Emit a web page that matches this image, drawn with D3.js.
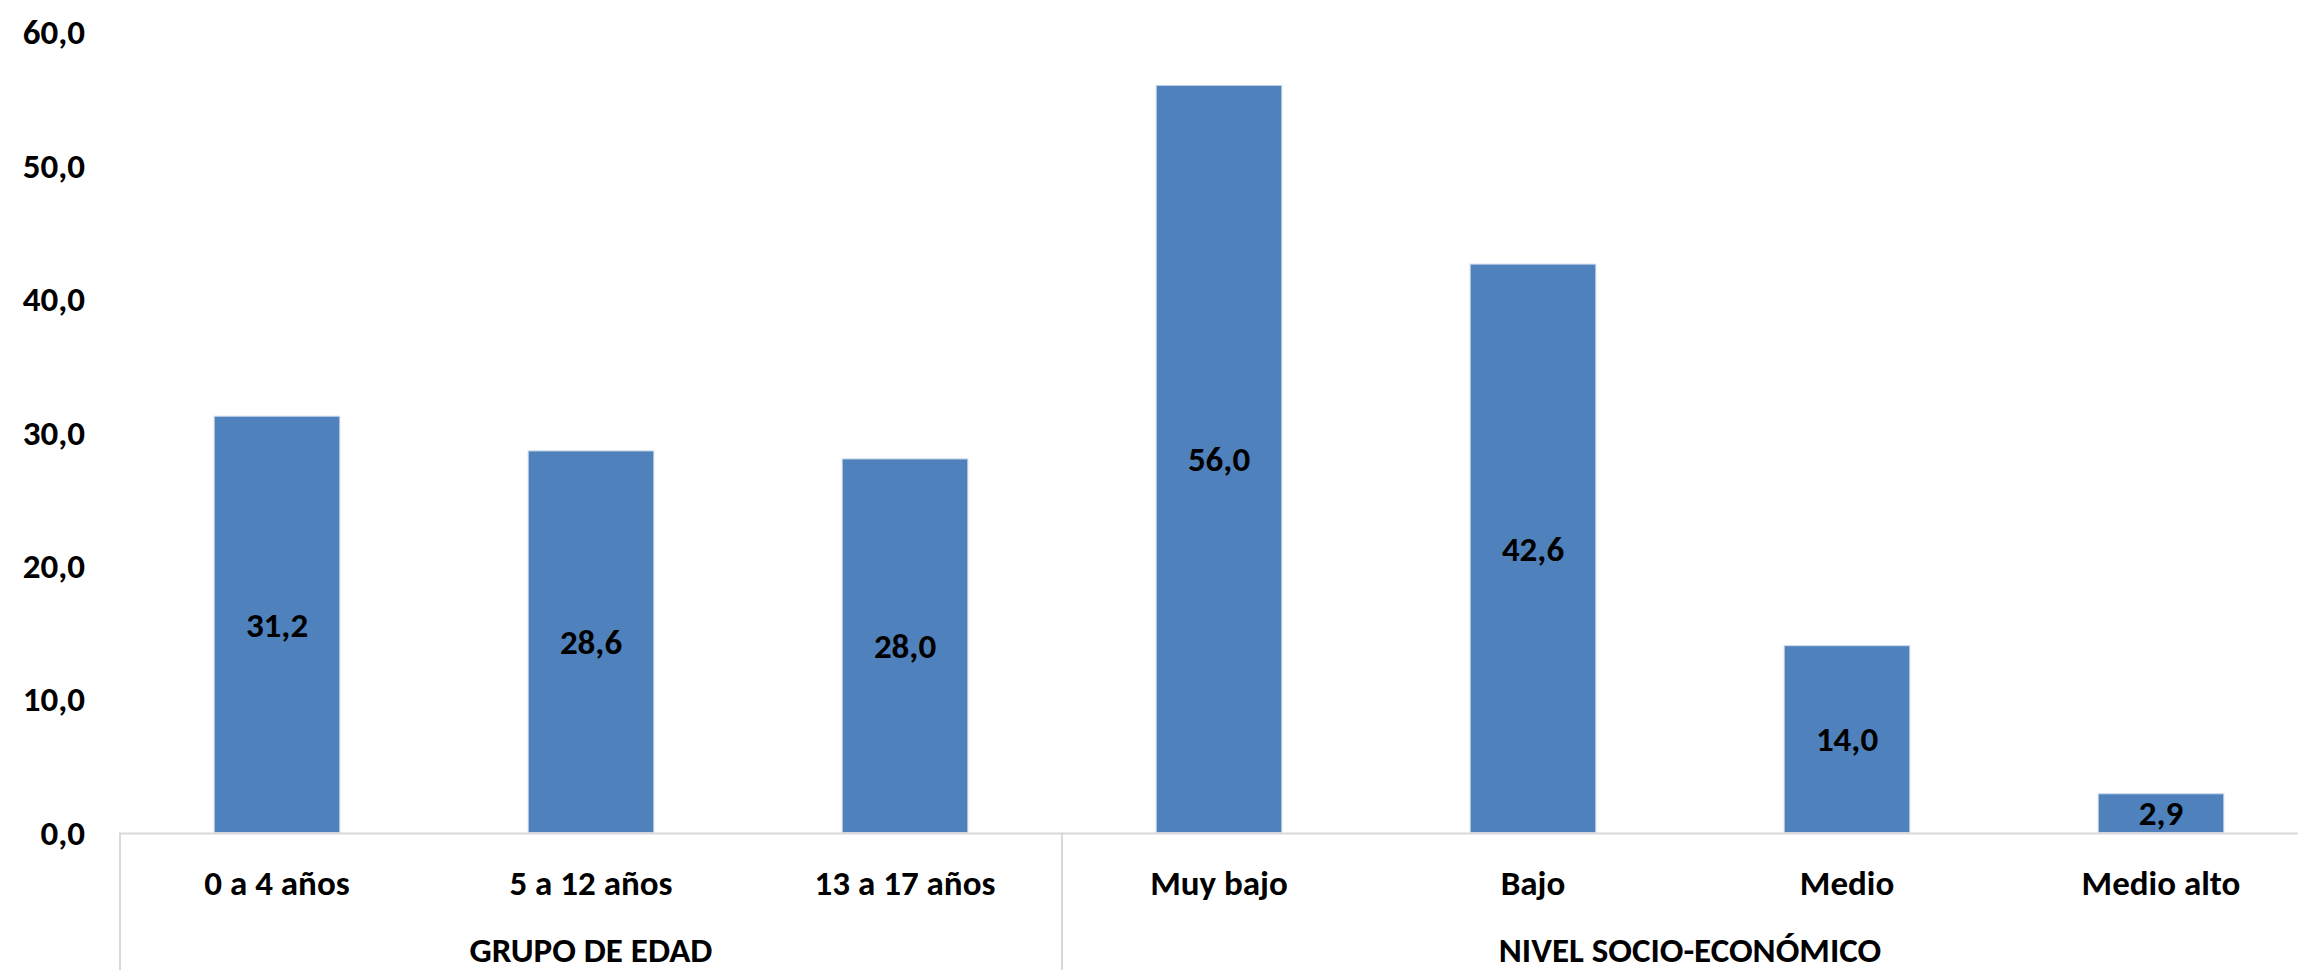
<!DOCTYPE html>
<html><head><meta charset="utf-8">
<script src="https://cdn.jsdelivr.net/npm/d3@7"></script>
<style>
html,body{margin:0;padding:0;background:#fff;overflow:hidden}
text{font-family:Calibri,Carlito,Lato,"Open Sans",sans-serif;font-weight:bold;fill:#000}
</style></head><body>
<script>
const categories = ["0 a 4 años","5 a 12 años","13 a 17 años","Muy bajo","Bajo","Medio","Medio alto"];
const values = [31.2,28.6,28.0,56.0,42.6,14.0,2.9];
const groups = ["GRUPO DE EDAD","NIVEL SOCIO-ECONÓMICO"];
const groupSizes = [3,4];
const yTicks = [0,10,20,30,40,50,60];

const W=2298,H=970,FS="35px";
const svg=d3.select("body").append("svg").attr("width",W).attr("height",H);
const x=d3.scaleBand().domain(categories).range([120,2318]).paddingInner(0.6).paddingOuter(0.3);
const y=d3.scaleLinear().domain([0,60]).range([832.5,32]);
const fmt=v=>d3.format(".1f")(v).replace(".",",");

// y tick labels
svg.append("g").selectAll("text").data(yTicks).join("text")
  .attr("x",85).attr("y",d=>y(d)).attr("dy","0.35em").attr("text-anchor","end")
  .style("font-size",FS).text(fmt);

// bars
svg.append("g").selectAll("rect").data(values).join("rect")
  .attr("x",(d,i)=>x(categories[i])).attr("width",x.bandwidth())
  .attr("y",d=>y(d)).attr("height",d=>y(0)-y(d))
  .attr("fill","#4F81BD").attr("stroke","#c9d6ea").attr("stroke-width",1);

// data labels
svg.append("g").selectAll("text").data(values).join("text")
  .attr("x",(d,i)=>x(categories[i])+x.bandwidth()/2)
  .attr("y",d=>(y(d)+y(0))/2).attr("dy","0.35em").attr("text-anchor","middle")
  .style("font-size",FS).text(fmt);

// axis lines
const step=x.step();
const axisG=svg.append("g").attr("stroke","#d9d9d9").attr("stroke-width",2);
axisG.append("line").attr("x1",120).attr("x2",2318).attr("y1",y(0)+1).attr("y2",y(0)+1);
let idx=0;const bounds=[0];
groupSizes.forEach(s=>{idx+=s;bounds.push(idx);});
bounds.forEach(b=>{
  const xx=120+b*step;
  axisG.append("line").attr("x1",xx).attr("x2",xx).attr("y1",y(0)).attr("y2",H);
});

// category labels
svg.append("g").selectAll("text").data(categories).join("text")
  .attr("x",d=>x(d)+x.bandwidth()/2).attr("y",883).attr("dy","0.35em")
  .attr("text-anchor","middle").style("font-size",FS).text(d=>d);

// group labels
svg.append("g").selectAll("text").data(groups).join("text")
  .attr("x",(d,i)=>120+(bounds[i]+bounds[i+1])/2*step).attr("y",950).attr("dy","0.35em")
  .attr("text-anchor","middle").style("font-size",FS).text(d=>d);
</script>
</body></html>
